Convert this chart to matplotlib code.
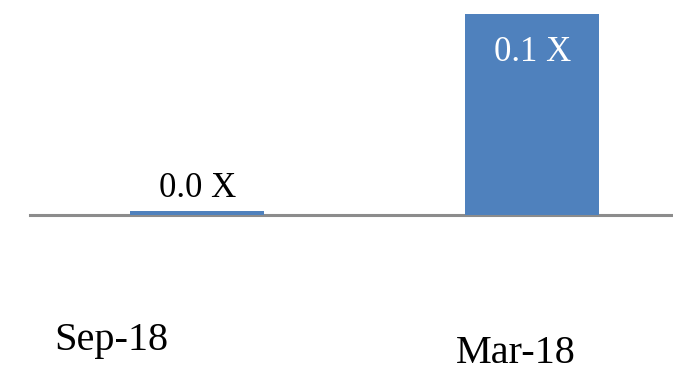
import matplotlib.pyplot as plt
from matplotlib.transforms import blended_transform_factory

categories = ['Sep-18', 'Mar-18']
values = [0.002, 0.1]
value_labels = ['0.0 X', '0.1 X']

plt.rcParams['font.family'] = ['Liberation Serif', 'DejaVu Serif']

fig = plt.figure(figsize=(6.73, 3.71), dpi=100)
ax = fig.add_axes([0.0446, 0.4205, 0.9554, 0.5418])

x = list(range(len(categories)))
bars = ax.bar(x, values, width=0.4, color='#4F81BD', zorder=2)

ax.set_xlim(-0.5, 1.42)
ax.set_ylim(0, 0.1)
ax.axis('off')
ax.axhline(0, color='#8c8c8c', lw=2.2, zorder=1, clip_on=False)

# value labels: first above the bar, second inside at the top
ax.annotate(value_labels[0], (x[0], values[0]), xytext=(0, 10), textcoords='offset points',
            ha='center', va='baseline', fontsize=25, color='black')
ax.annotate(value_labels[1], (x[1], values[1]), xytext=(0, -34), textcoords='offset points',
            ha='center', va='baseline', fontsize=25, color='white')

# category labels, staggered below the axis
trans = blended_transform_factory(ax.transData, ax.transAxes)
dx = [-0.257, -0.048]
dy = [-0.672, -0.735]
for xi, name, ox, oy in zip(x, categories, dx, dy):
    ax.text(xi + ox, oy, name, transform=trans, ha='center', va='baseline', fontsize=29)

fig.savefig('out.png', dpi=100)
